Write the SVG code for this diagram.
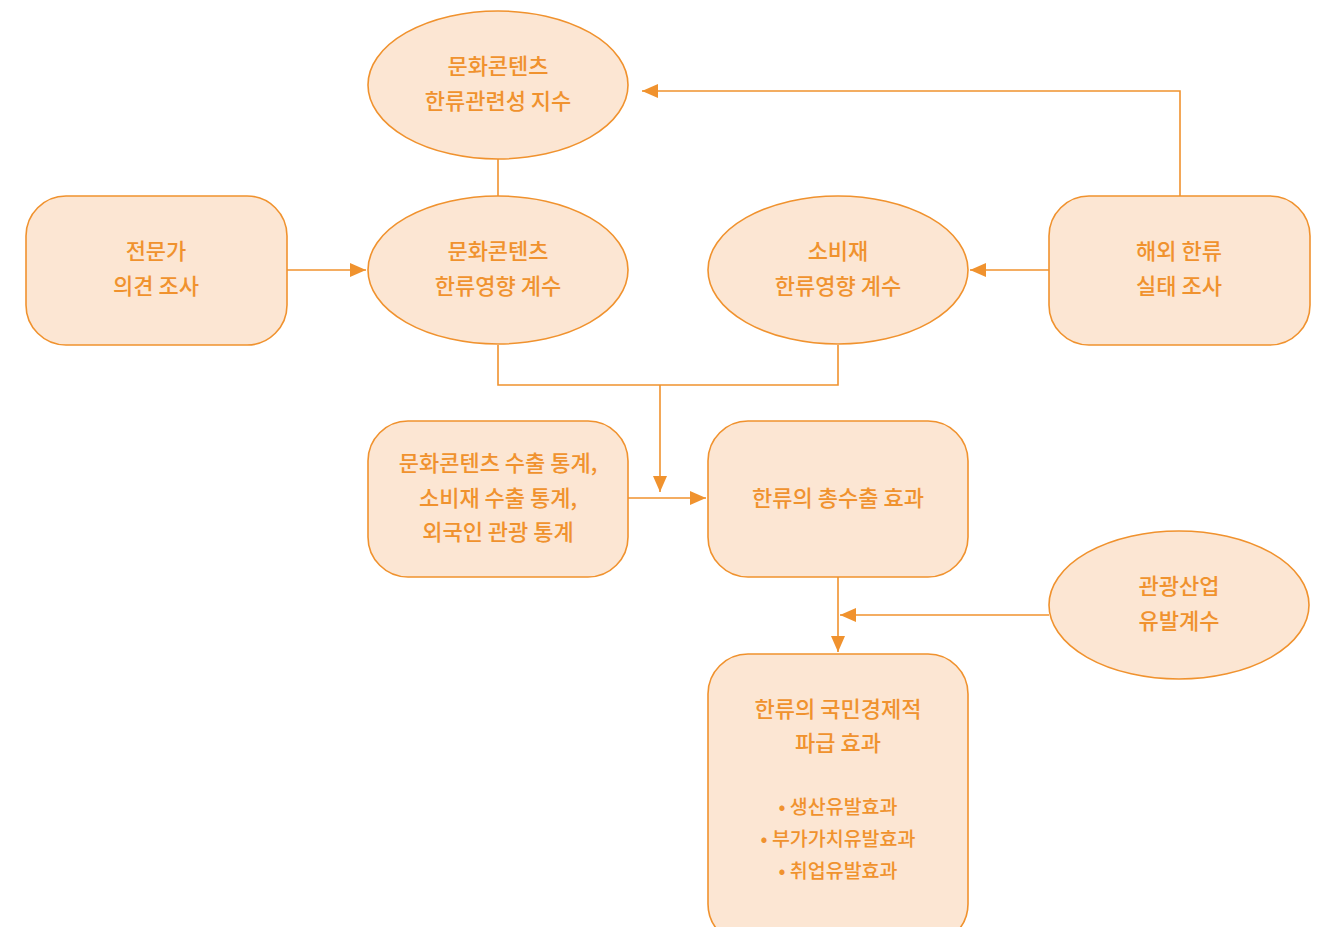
<svg xmlns="http://www.w3.org/2000/svg" width="1335" height="927" viewBox="0 0 1335 927">
<style>
.n{fill:#FCE6D3;stroke:#F0922E;stroke-width:1.6}
.t{font-family:"Noto Sans CJK KR","Noto Sans",sans-serif;font-size:22px;fill:#F0922E;text-anchor:middle;font-weight:500}
.b{font-size:19.5px}
.c{fill:none;stroke:#F0922E;stroke-width:1.6}
</style>
<defs>
<marker id="A" viewBox="0 0 16 14" refX="16" refY="7" markerWidth="16" markerHeight="14" markerUnits="userSpaceOnUse" orient="auto">
<path d="M0,0 L16,7 L0,14 z" fill="#F0922E"/>
</marker>
</defs>
<rect width="1335" height="927" fill="#fff"/>
<g id="connectors">
<path class="c" d="M498,159 V196"/>
<path class="c" d="M287,270 H366" marker-end="url(#A)"/>
<path class="c" d="M1049,270 H970" marker-end="url(#A)"/>
<path class="c" d="M1180,196 V91 H642" marker-end="url(#A)"/>
<path class="c" d="M498,345 V385 H838 V345"/>
<path class="c" d="M660,385 V492" marker-end="url(#A)"/>
<path class="c" d="M628,498 H706" marker-end="url(#A)"/>
<path class="c" d="M838,577 V652" marker-end="url(#A)"/>
<path class="c" d="M1049,615 H840" marker-end="url(#A)"/>
</g>
<g id="n1"><ellipse class="n" cx="498" cy="85" rx="130" ry="74"/>
<text class="t" x="498" y="74">문화콘텐츠</text><text class="t" x="498" y="109">한류관련성 지수</text></g>
<g id="n2"><rect class="n" x="26" y="196" width="261" height="149" rx="40"/>
<text class="t" x="156" y="259">전문가</text><text class="t" x="156" y="294">의견 조사</text></g>
<g id="n3"><ellipse class="n" cx="498" cy="270" rx="130" ry="74"/>
<text class="t" x="498" y="259">문화콘텐츠</text><text class="t" x="498" y="294">한류영향 계수</text></g>
<g id="n4"><ellipse class="n" cx="838" cy="270" rx="130" ry="74"/>
<text class="t" x="838" y="259">소비재</text><text class="t" x="838" y="294">한류영향 계수</text></g>
<g id="n5"><rect class="n" x="1049" y="196" width="261" height="149" rx="40"/>
<text class="t" x="1179" y="259">해외 한류</text><text class="t" x="1179" y="294">실태 조사</text></g>
<g id="n6"><rect class="n" x="368" y="421" width="260" height="156" rx="40"/>
<text class="t" x="498" y="471">문화콘텐츠 수출 통계,</text><text class="t" x="498" y="506">소비재 수출 통계,</text><text class="t" x="498" y="540">외국인 관광 통계</text></g>
<g id="n7"><rect class="n" x="708" y="421" width="260" height="156" rx="40"/>
<text class="t" x="838" y="506">한류의 총수출 효과</text></g>
<g id="n8"><ellipse class="n" cx="1179" cy="605" rx="130" ry="74"/>
<text class="t" x="1179" y="594">관광산업</text><text class="t" x="1179" y="629">유발계수</text></g>
<g id="n9"><rect class="n" x="708" y="654" width="260" height="290" rx="40"/>
<text class="t" x="838" y="717">한류의 국민경제적</text><text class="t" x="838" y="751">파급 효과</text>
<text class="t b" x="838" y="814">• 생산유발효과</text><text class="t b" x="838" y="846">• 부가가치유발효과</text><text class="t b" x="838" y="878">• 취업유발효과</text></g>
</svg>
